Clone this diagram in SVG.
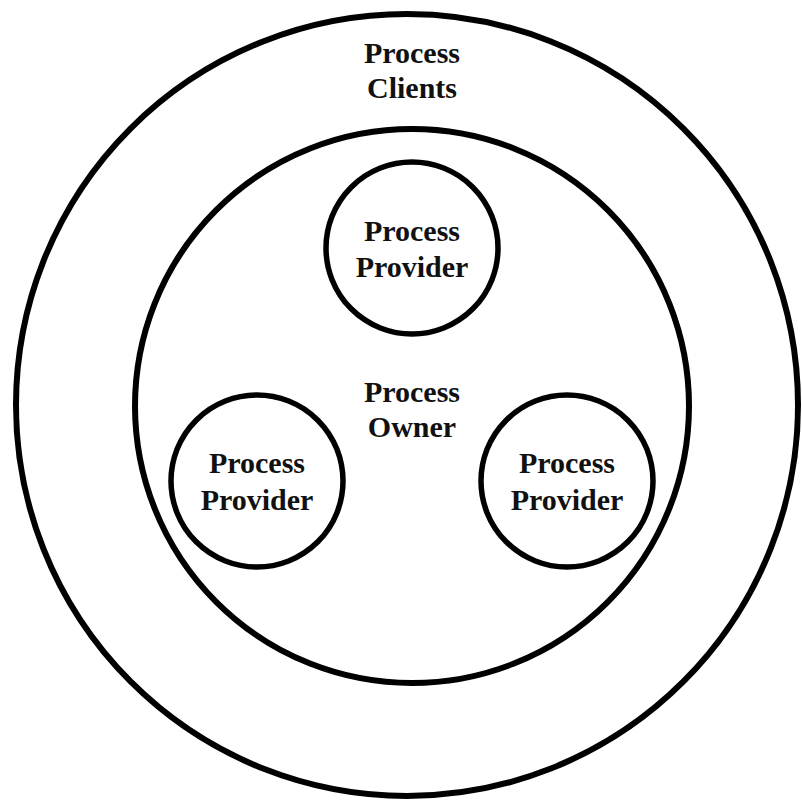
<svg xmlns="http://www.w3.org/2000/svg" width="802" height="805" viewBox="0 0 802 805">
<style>
.c{fill:none;stroke:#000;stroke-width:6}
.s{fill:none;stroke:#000;stroke-width:5.5}
text{font-family:"Liberation Serif","Times New Roman",serif;font-weight:bold;font-size:30px;fill:#111;text-anchor:middle}
</style>
<rect width="802" height="805" fill="#fff"/>
<g id="clients">
<circle class="c" cx="407" cy="405" r="391"/>
<text x="412" y="63">Process</text>
<text x="412" y="98">Clients</text>
</g>
<g id="owner">
<circle class="c" cx="412" cy="406" r="277"/>
<text x="412" y="402">Process</text>
<text x="412" y="437">Owner</text>
</g>
<g id="provider-top">
<circle class="s" cx="412" cy="248" r="86"/>
<text x="412" y="241">Process</text>
<text x="412" y="277">Provider</text>
</g>
<g id="provider-left">
<circle class="s" cx="257" cy="481" r="86"/>
<text x="257" y="473">Process</text>
<text x="257" y="510">Provider</text>
</g>
<g id="provider-right">
<circle class="s" cx="567" cy="481" r="86"/>
<text x="567" y="473">Process</text>
<text x="567" y="510">Provider</text>
</g>
<g id="connectors"></g>
</svg>
